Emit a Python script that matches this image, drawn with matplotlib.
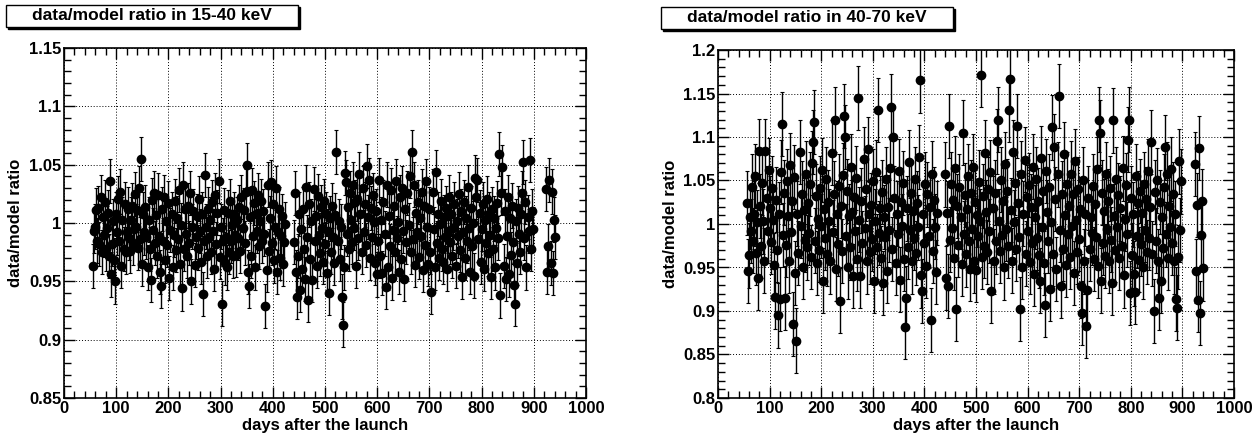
import matplotlib
matplotlib.use("Agg")
import matplotlib.pyplot as plt
from matplotlib.patches import Rectangle
from matplotlib.ticker import MultipleLocator, FuncFormatter

plt.rcParams['font.family'] = ['Liberation Sans', 'DejaVu Sans']
plt.rcParams['font.weight'] = 'bold'
plt.rcParams['axes.labelweight'] = 'bold'

# observation days (x) shared by both energy bands
days = [
    56, 58, 60, 62, 64, 66, 68, 70, 72, 74,
    76, 78, 80, 82, 84, 86, 88, 90, 92, 94,
    96, 98, 100, 102, 104, 106, 108, 110, 112, 114,
    116, 118, 120, 122, 124, 126, 128, 130, 132, 134,
    136, 138, 140, 142, 144, 146, 148, 150, 152, 154,
    156, 158, 160, 162, 164, 166, 168, 170, 172, 174,
    176, 178, 180, 182, 184, 186, 188, 190, 192, 194,
    196, 198, 200, 202, 204, 206, 208, 210, 212, 214,
    216, 218, 220, 222, 224, 226, 228, 230, 232, 234,
    236, 238, 240, 242, 244, 246, 248, 250, 252, 254,
    256, 258, 260, 262, 264, 266, 268, 270, 272, 274,
    276, 278, 280, 282, 284, 286, 288, 290, 292, 294,
    296, 298, 300, 302, 304, 306, 308, 310, 312, 314,
    316, 318, 320, 322, 324, 326, 328, 330, 332, 334,
    336, 338, 340, 342, 344, 346, 348, 350, 352, 354,
    356, 358, 360, 362, 364, 366, 368, 370, 372, 374,
    376, 378, 380, 382, 384, 386, 388, 390, 392, 394,
    396, 398, 400, 402, 404, 406, 408, 410, 412, 414,
    416, 418, 420, 422, 424,
    440, 442, 444, 446, 448, 450, 452, 454, 456, 458,
    460, 462, 464, 466, 468, 470, 472, 474, 476, 478,
    480, 482, 484, 486, 488, 490, 492, 494, 496, 498,
    500, 502, 504, 506, 508, 510, 512, 514, 516, 518,
    520, 522, 524, 526, 528, 530, 532, 534, 536, 538,
    540, 542, 544, 546, 548, 550, 552, 554, 556, 558,
    560, 562, 564, 566, 568, 570, 572, 574, 576, 578,
    580, 582, 584, 586, 588, 590, 592, 594, 596, 598,
    600, 602, 604, 606, 608, 610, 612, 614, 616, 618,
    620, 622, 624, 626, 628, 630, 632, 634, 636, 638,
    640, 642, 644, 646, 648, 650, 652, 654, 656, 658,
    660, 662, 664, 666, 668, 670, 672, 674, 676, 678,
    680, 682, 684, 686, 688, 690, 692, 694, 696, 698,
    700, 702, 704, 706, 708, 710, 712, 714, 716, 718,
    720, 722, 724, 726, 728, 730, 732, 734, 736, 738,
    740, 742, 744, 746, 748, 750, 752, 754, 756, 758,
    760, 762, 764, 766, 768, 770, 772, 774, 776, 778,
    780, 782, 784, 786, 788, 790, 792, 794, 796, 798,
    800, 802, 804, 806, 808, 810, 812, 814, 816, 818,
    820, 822, 824, 826, 828, 830, 832, 834, 836, 838,
    840, 842, 844, 846, 848, 850, 852, 854, 856, 858,
    860, 862, 864, 866, 868, 870, 872, 874, 876, 878,
    880, 882, 884, 886, 888, 890, 892, 894, 896, 898,
    924, 926, 928, 930, 932, 934, 936, 938, 940,
]

# data/model ratio, 15-40 keV
ratio_15_40 = [
    0.963, 0.993, 0.997, 1.011, 0.985, 1.013, 0.982, 1.022, 0.975, 1.005,
    0.990, 1.018, 0.978, 0.996, 1.009, 0.972, 1.036, 0.956, 0.982, 1.002,
    0.968, 0.950, 1.008, 0.992, 1.021, 0.985, 1.027, 0.963, 1.003, 0.978,
    1.016, 0.975, 0.992, 1.012, 0.987, 0.976, 1.003, 1.015, 0.983, 0.995,
    1.025, 0.997, 1.011, 0.979, 1.030, 0.986, 1.055, 0.965, 1.008, 0.992,
    1.014, 0.988, 0.962, 1.003, 0.978, 0.951, 1.020, 0.994, 1.026, 0.983,
    1.007, 0.972, 1.024, 0.989, 0.958, 0.946, 1.012, 0.985, 1.022, 0.968,
    1.002, 0.981, 1.017, 0.953, 0.994, 1.008, 0.962, 0.990, 1.019, 0.977,
    1.004, 0.986, 1.028, 0.965, 0.998, 0.944, 1.033, 0.978, 1.012, 0.991,
    0.972, 1.015, 0.983, 1.026, 0.950, 0.997, 1.010, 0.964, 0.988, 1.006,
    0.979, 1.021, 0.993, 0.967, 1.008, 0.939, 0.985, 1.041, 0.997, 0.972,
    1.012, 0.988, 1.003, 0.975, 1.018, 0.993, 0.961, 1.024, 0.982, 1.009,
    1.036, 0.971, 0.997, 0.931, 0.985, 1.011, 0.966, 0.988, 0.962, 1.009,
    0.975, 1.019, 0.985, 0.998, 0.972, 1.008, 0.990, 0.973, 1.003, 0.987,
    1.014, 0.976, 1.022, 0.996, 1.011, 0.983, 1.027, 1.050, 0.958, 0.946,
    1.005, 0.972, 1.028, 0.989, 1.017, 0.962, 1.008, 0.993, 1.024, 0.980,
    1.002, 1.019, 0.985, 1.010, 0.991, 0.929, 0.960, 1.033, 0.976, 1.004,
    1.035, 0.983, 1.016, 0.968, 0.997, 1.030, 0.958, 0.992, 1.012, 0.970,
    0.989, 1.006, 0.965, 0.984, 0.999,
    0.984, 1.026, 0.958, 0.937, 0.972, 1.008, 0.943, 0.995, 0.961, 1.012,
    0.978, 0.952, 1.031, 0.988, 0.934, 1.016, 0.969, 1.002, 0.951, 1.029,
    0.985, 1.006, 0.963, 1.023, 0.990, 0.974, 1.014, 0.996, 0.967, 1.019,
    0.982, 1.008, 0.957, 0.993, 0.940, 1.004, 0.975, 1.015, 0.988, 0.966,
    1.007, 1.061, 0.985, 1.002, 0.969, 0.997, 0.937, 0.913, 0.962, 1.043,
    1.035, 0.991, 1.014, 0.978, 1.026, 1.003, 0.984, 1.033, 0.996, 1.018,
    0.963, 1.021, 0.987, 1.042, 1.008, 0.975, 1.030, 0.992, 1.016, 0.981,
    1.049, 1.005, 1.037, 0.970, 1.013, 0.988, 1.024, 1.001, 0.966, 1.010,
    0.956, 0.985, 1.037, 0.972, 1.003, 0.957, 1.018, 0.991, 0.945, 1.033,
    0.962, 1.006, 0.980, 1.028, 0.953, 0.994, 1.015, 0.975, 1.036, 0.987,
    1.001, 0.958, 1.022, 0.969, 1.030, 0.993, 0.952, 1.012, 0.984, 1.026,
    0.998, 1.040, 0.975, 1.061, 0.986, 1.033, 0.964, 1.009, 0.992, 1.018,
    0.971, 1.004, 0.989, 1.027, 0.960, 1.015, 0.981, 1.036, 0.997, 0.965,
    1.012, 0.975, 0.941, 1.027, 0.995, 0.962, 1.044, 0.983, 1.008, 0.970,
    0.999, 1.019, 0.978, 0.967, 1.005, 0.988, 1.013, 0.961, 0.993, 1.022,
    0.984, 1.008, 0.972, 0.996, 1.016, 0.963, 1.002, 0.989, 1.025, 0.977,
    1.010, 0.954, 0.992, 1.018, 0.970, 1.004, 0.985, 1.031, 0.996, 0.958,
    1.013, 0.980, 1.000, 0.955, 1.039, 1.022, 1.037, 0.986, 1.009, 0.967,
    0.995, 1.016, 0.961, 1.003, 0.983, 1.021, 0.974, 1.008, 0.990, 0.954,
    1.012, 0.978, 1.004, 0.962, 0.996, 1.017, 0.987, 1.059, 0.938, 1.026,
    1.048, 0.963, 1.010, 0.952, 0.989, 1.022, 0.956, 1.004, 0.973, 1.015,
    0.984, 0.947, 0.931, 1.002, 0.966, 1.013, 0.991, 0.975, 1.008, 1.026,
    1.052, 0.987, 1.018, 0.962, 1.005, 0.993, 1.054, 0.978, 1.010, 0.995,
    1.029, 0.958, 0.980, 1.037, 0.966, 1.027, 0.957, 1.003, 0.988,
]

# data/model ratio, 40-70 keV
ratio_40_70 = [
    1.024, 0.946, 0.964, 1.008, 0.992, 1.043, 0.981, 1.012, 1.055, 0.967,
    1.002, 0.938, 1.084, 1.021, 0.975, 1.047, 1.003, 0.958, 1.084, 1.030,
    0.992, 1.062, 1.018, 0.979, 1.041, 1.005, 0.953, 0.916, 1.028, 0.970,
    0.895, 1.011, 0.914, 1.060, 1.115, 0.987, 1.036, 0.915, 0.976, 1.049,
    1.009, 0.958, 1.068, 0.991, 1.027, 0.885, 1.054, 0.944, 0.866, 1.012,
    0.967, 1.083, 0.998, 1.035, 0.951, 1.016, 0.982, 1.058, 0.973, 1.024,
    0.990, 1.046, 0.962, 1.070, 1.094, 1.117, 0.981, 1.032, 0.955, 1.006,
    0.970, 1.041, 0.998, 1.062, 0.935, 1.017, 0.984, 1.052, 0.966, 1.025,
    1.003, 0.957, 1.082, 0.991, 1.035, 1.120, 0.948, 1.012, 0.977, 1.044,
    0.912, 1.021, 0.969, 1.056, 1.124, 1.100, 0.986, 1.038, 0.951, 1.009,
    0.973, 1.066, 1.014, 0.940, 1.031, 0.992, 1.053, 0.960, 1.145, 1.005,
    0.940, 1.027, 0.978, 1.075, 0.995, 1.040, 0.957, 1.086, 1.011, 0.968,
    1.022, 0.983, 1.049, 0.935, 1.003, 1.060, 0.974, 1.131, 0.990, 1.018,
    0.961, 1.037, 0.932, 1.008, 0.985, 1.052, 0.946, 1.019, 0.993, 1.064,
    1.135, 0.971, 1.100, 1.030, 0.955, 1.012, 0.988, 1.061, 0.936, 1.025,
    0.998, 1.047, 0.960, 0.882, 0.915, 1.018, 0.974, 1.071, 0.993, 1.036,
    0.957, 1.015, 0.984, 1.052, 0.967, 1.024, 0.996, 1.077, 1.165, 0.941,
    0.923, 1.011, 0.978, 1.046, 0.952, 1.034, 0.986, 1.019, 0.890, 1.058,
    0.969, 1.028, 0.997, 0.945, 1.013,
    1.057, 0.938, 1.013, 0.929, 1.113, 0.982, 1.046, 0.995, 1.028, 0.961,
    1.064, 0.902, 1.021, 0.976, 1.043, 1.008, 0.954, 1.105, 0.989, 1.033,
    0.965, 1.017, 1.055, 0.981, 0.948, 1.036, 0.994, 1.066, 0.958, 1.025,
    0.947, 1.010, 0.986, 1.048, 1.003, 1.171, 0.962, 1.032, 0.975, 1.082,
    1.014, 0.968, 1.040, 0.992, 1.060, 0.923, 1.018, 0.957, 1.036, 0.980,
    1.095, 1.120, 1.003, 0.969, 1.051, 0.987, 1.027, 0.950, 1.069, 0.994,
    1.038, 0.975, 1.131, 1.167, 1.016, 0.958, 1.083, 1.002, 1.047, 0.971,
    1.113, 1.024, 0.985, 0.902, 1.058, 0.951, 1.012, 1.074, 0.966, 1.031,
    0.992, 1.045, 0.956, 1.020, 0.978, 1.066, 0.943, 1.008, 1.052, 0.984,
    1.027, 0.964, 0.935, 1.076, 0.997, 1.038, 0.955, 0.907, 1.061, 1.014,
    0.981, 1.043, 0.925, 1.002, 1.111, 0.966, 1.089, 1.029, 0.948, 1.057,
    1.147, 0.993, 0.929, 1.035, 0.971, 1.080, 1.010, 0.953, 1.046, 0.989,
    1.021, 0.962, 1.058, 0.998, 1.034, 0.944, 1.072, 1.005, 0.968, 1.040,
    0.983, 1.017, 0.929, 0.898, 1.051, 0.957, 1.012, 0.883, 0.924, 1.030,
    0.971, 1.008, 0.990, 1.044, 0.960, 1.023, 0.985, 1.063, 0.952, 1.120,
    1.105, 0.935, 1.036, 0.978, 1.015, 0.963, 1.057, 0.994, 1.026, 0.958,
    1.041, 0.982, 0.932, 1.119, 1.009, 0.970, 1.052, 0.997, 1.033, 0.961,
    1.018, 0.975, 1.064, 0.941, 1.006, 1.045, 0.988, 1.097, 1.120, 0.921,
    1.030, 0.964, 1.011, 0.943, 0.922, 1.055, 0.986, 1.024, 0.959, 1.038,
    0.977, 1.013, 0.951, 1.046, 0.993, 1.029, 0.968, 1.061, 0.984, 1.019,
    1.094, 0.966, 0.900, 1.037, 0.981, 1.050, 0.957, 0.915, 1.025, 0.935,
    1.008, 0.972, 1.043, 1.088, 0.988, 1.057, 0.961, 1.021, 0.996, 1.063,
    0.978, 1.034, 0.957, 1.012, 0.914, 0.904, 0.962, 1.072, 0.993, 1.049,
    1.069, 0.946, 1.022, 0.913, 1.087, 0.898, 0.987, 1.026, 0.949,
]

err_15_40 = 0.019
err_40_70 = 0.037

W, H = 1259, 438
fig = plt.figure(figsize=(W / 100, H / 100), dpi=100)


def px_axes(x0, y0, x1, y1):
    # pixel box (top-left origin) -> figure axes
    return fig.add_axes([x0 / W, 1 - y1 / H, (x1 - x0) / W, (y1 - y0) / H])


def title_box(x0, y0, x1, y1, text):
    shadow = Rectangle(((x0 + 2) / W, 1 - (y1 + 2) / H), (x1 - x0) / W, (y1 - y0) / H,
                       transform=fig.transFigure, facecolor='black', edgecolor='black', lw=1)
    box = Rectangle((x0 / W, 1 - y1 / H), (x1 - x0) / W, (y1 - y0) / H,
                    transform=fig.transFigure, facecolor='white', edgecolor='black', lw=1)
    fig.add_artist(shadow)
    fig.add_artist(box)
    fig.text((x0 + x1) / 2 / W, 1 - (y0 + y1) / 2 / H, text, ha='center', va='center',
             fontsize=12.5, fontweight='bold')


def draw_panel(ax, ratio, err, ylo, yhi):
    ax.errorbar(days, ratio, yerr=err, fmt='o', color='black', ms=6,
                elinewidth=1.0, capsize=1.5, capthick=0.8)
    ax.set_xlim(0, 1000)
    ax.set_ylim(ylo, yhi)
    ax.xaxis.set_major_locator(MultipleLocator(100))
    ax.xaxis.set_minor_locator(MultipleLocator(20))
    ax.yaxis.set_major_locator(MultipleLocator(0.05))
    ax.yaxis.set_minor_locator(MultipleLocator(0.01))
    ax.yaxis.set_major_formatter(FuncFormatter(lambda v, p: f"{round(v, 3):g}"))
    ax.set_axisbelow(True)
    ax.grid(True, which='major', color='black', linestyle=(0, (1, 2)), linewidth=0.7)
    ax.tick_params(which='both', direction='in', top=True, right=True, labelsize=12, width=1)
    ax.tick_params(which='major', length=8, pad=2)
    ax.tick_params(which='minor', length=5)
    for s in ax.spines.values():
        s.set_linewidth(1.2)
    ax.set_xlabel('days after the launch', fontsize=12)
    ax.set_ylabel('data/model ratio', fontsize=12)
    ax.xaxis.set_label_coords(0.5, -0.057)
    ax.yaxis.set_label_coords(-0.078, 0.5)


ax1 = px_axes(64, 48, 586, 398)
draw_panel(ax1, ratio_15_40, err_15_40, 0.85, 1.15)
ax2 = px_axes(718, 50, 1234, 398)
draw_panel(ax2, ratio_40_70, err_40_70, 0.8, 1.2)

title_box(6, 5, 298, 27, 'data/model ratio in 15-40 keV')
title_box(661, 7, 953, 29, 'data/model ratio in 40-70 keV')

fig.savefig('out.png', dpi=100)
